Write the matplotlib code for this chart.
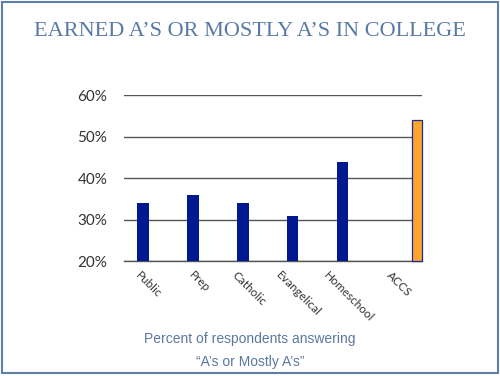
import matplotlib
matplotlib.use("Agg")
import matplotlib.pyplot as plt
from matplotlib.patches import Rectangle

categories = ["Public", "Prep", "Catholic", "Evangelical", "Homeschool", "ACCS"]
blue_values = [34, 36, 34, 31, 44]
accs_value = 54
y_ticks = [20, 30, 40, 50, 60]
y_tick_labels = ["20%", "30%", "40%", "50%", "60%"]

fig = plt.figure(figsize=(5, 3.76), dpi=100)
ax = fig.add_axes([0.248, 0.305, 0.596, 0.4415])

blue_x = [i - 0.12 for i in range(len(blue_values))]
ax.bar(blue_x, [v - 20 for v in blue_values], bottom=20, width=0.23,
       color="#001990", zorder=3)
ax.bar([5.37], [accs_value - 20], bottom=20, width=0.2, color="#FFA52C",
       edgecolor="#1a2a9c", linewidth=0.9, zorder=3, clip_on=False)

ax.set_xlim(-0.5, 5.47)
ax.set_ylim(20, 60)
ax.set_yticks(y_ticks)
ax.set_yticklabels(y_tick_labels, fontsize=11, color="#333333", family="Lato")
ax.yaxis.grid(True, color="#555555", linewidth=1.0, zorder=0)
ax.tick_params(axis="y", length=0, pad=12)
for s in ["left", "right", "top"]:
    ax.spines[s].set_visible(False)
ax.spines["bottom"].set_color("#555555")
ax.spines["bottom"].set_linewidth(1.0)

ax.set_xticks(list(range(len(categories))))
ax.set_xticklabels(categories, rotation=-45, ha="center", va="top",
                   fontsize=8.5, color="#333333", family="Lato")
ax.tick_params(axis="x", length=0, pad=6)

fig.text(0.5, 1 - 31 / 376, "EARNED A’S OR MOSTLY A’S IN COLLEGE",
         ha="center", va="center", fontsize=16, color="#5a7aa6",
         family="Liberation Serif")
fig.text(0.5, 1 - 339 / 376, "Percent of respondents answering",
         ha="center", va="center", fontsize=10, color="#5a78a0",
         family="Liberation Sans")
fig.text(0.5, 1 - 362 / 376, "“A’s or Mostly A’s”",
         ha="center", va="center", fontsize=10, color="#5a78a0",
         family="Liberation Sans")

fig.patches.append(Rectangle((1.5 / 500, 1 - 373 / 376), 496 / 500, 371 / 376,
                             transform=fig.transFigure, fill=False,
                             edgecolor="#5f7fa8", linewidth=1.5))

fig.savefig("out.png", dpi=100)
